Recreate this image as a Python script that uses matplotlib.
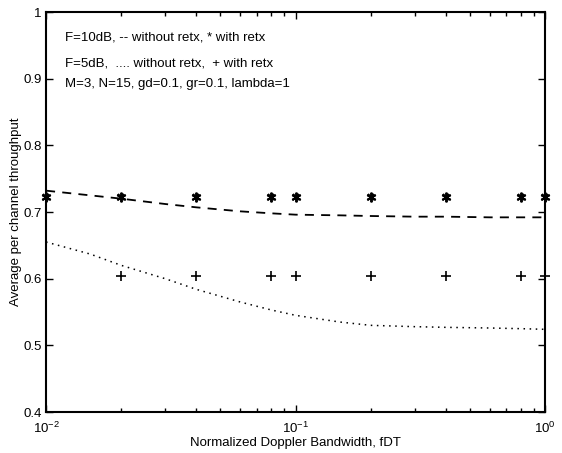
import matplotlib
matplotlib.use("Agg")
import matplotlib.pyplot as plt
from matplotlib.ticker import FixedLocator, LogLocator, NullFormatter

plt.rcParams['font.family'] = ['Liberation Sans', 'DejaVu Sans']

# Data
fdt_curve = [0.01, 0.015, 0.02, 0.03, 0.04, 0.06, 0.08, 0.1, 0.15, 0.2, 0.3, 0.4, 0.6, 0.8, 1.0]
f10_noretx = [0.732, 0.725, 0.720, 0.712, 0.707, 0.701, 0.698, 0.696, 0.695, 0.694, 0.693, 0.693, 0.692, 0.692, 0.692]
f5_noretx = [0.655, 0.637, 0.620, 0.600, 0.584, 0.565, 0.553, 0.545, 0.535, 0.530, 0.528, 0.527, 0.526, 0.525, 0.524]

fdt_f10_retx = [0.01, 0.02, 0.04, 0.08, 0.1, 0.2, 0.4, 0.8, 1.0]
f10_retx = [0.723, 0.723, 0.723, 0.723, 0.723, 0.723, 0.723, 0.723, 0.723]
fdt_f5_retx = [0.02, 0.04, 0.08, 0.1, 0.2, 0.4, 0.8, 1.0]
f5_retx = [0.604, 0.604, 0.604, 0.604, 0.604, 0.604, 0.604, 0.604]

yticks = [0.4, 0.5, 0.6, 0.7, 0.8, 0.9, 1.0]
ytick_labels = ['0.4', '0.5', '0.6', '0.7', '0.8', '0.9', '1']

annotations = [
    "F=10dB, -- without retx, * with retx",
    "F=5dB,  .... without retx,  + with retx",
    "M=3, N=15, gd=0.1, gr=0.1, lambda=1",
]

fig = plt.figure(figsize=(5.62, 4.53), dpi=100)
ax = fig.add_axes([0.082, 0.0905, 0.888, 0.883])

ax.plot(fdt_curve, f10_noretx, color='black', linestyle=(0, (5, 4)), linewidth=1.3, clip_on=False)
ax.plot(fdt_curve, f5_noretx, color='black', linestyle=(0, (1, 3)), linewidth=1.1, clip_on=False)
ax.plot(fdt_f10_retx, f10_retx, linestyle='none', marker=(6, 2, 0), markersize=7,
        markeredgewidth=1.4, color='black', clip_on=False)
ax.plot(fdt_f10_retx, f10_retx, linestyle='none', marker='x', markersize=5,
        markeredgewidth=1.4, color='black', clip_on=False)
ax.plot(fdt_f5_retx, f5_retx, linestyle='none', marker='+', markersize=7,
        markeredgewidth=1.2, color='black', clip_on=False)

ax.set_xscale('log')
ax.set_xlim(0.01, 1.0)
ax.set_ylim(0.4, 1.0)
ax.yaxis.set_major_locator(FixedLocator(yticks))
ax.set_yticklabels(ytick_labels)
ax.xaxis.set_minor_locator(LogLocator(base=10, subs=range(2, 10)))
ax.xaxis.set_minor_formatter(NullFormatter())

ax.tick_params(which='both', direction='in', top=True, right=True, labelsize=9.5, width=1)
ax.tick_params(which='major', length=5)
ax.tick_params(which='minor', length=3)
ax.tick_params(axis='x', which='major', pad=6)
ax.tick_params(axis='y', which='major', pad=3)
for s in ax.spines.values():
    s.set_linewidth(1.5)

ax.set_xlabel('Normalized Doppler Bandwidth, fDT', fontsize=9.5)
ax.set_ylabel('Average per channel throughput', fontsize=9.5)
ax.xaxis.set_label_coords(0.5, -0.063)
ax.yaxis.set_label_coords(-0.048, 0.5)

ys = [37, 63, 84]
for t, yp in zip(annotations, ys):
    fig.text(65 / 562, 1 - yp / 453, t, fontsize=9.5, va='center', ha='left')

fig.savefig('out.png', dpi=100)
